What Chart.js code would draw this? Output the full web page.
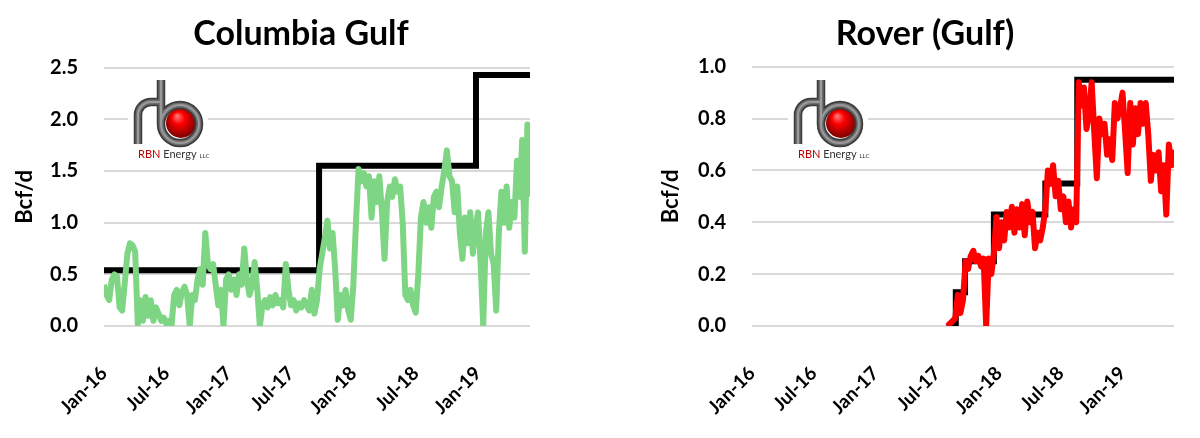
<!DOCTYPE html>
<html>
<head>
<meta charset="utf-8">
<title>Columbia Gulf / Rover (Gulf)</title>
<script src="https://cdn.jsdelivr.net/npm/chart.js@4.4.1/dist/chart.umd.min.js"></script>
<style>
  html, body { margin: 0; padding: 0; background: #fff; }
  #wrap { position: relative; width: 1200px; height: 438px; overflow: hidden; }
  canvas { position: absolute; top: 0; }
  #chartColumbia { left: 0; }
  #chartRover { left: 600px; }
</style>
</head>
<body>
<div id="wrap">
  <canvas id="chartColumbia" width="600" height="438"></canvas>
  <canvas id="chartRover" width="600" height="438"></canvas>
</div>
<script>
// x axis = months since Jan-16, one flow reading every quarter month
const monthStep = 0.25;
const tickMonths = [0, 6, 12, 18, 24, 30, 36];
const tickLabels = ['Jan-16', 'Jul-16', 'Jan-17', 'Jul-17', 'Jan-18', 'Jul-18', 'Jan-19'];

// Columbia Gulf flows (Bcf/d), 8 values = 2 months per row
const columbiaFlow = [
  0.40, 0.30, 0.25, 0.45, 0.50, 0.48, 0.18, 0.15,
  0.42, 0.70, 0.80, 0.78, 0.72, 0.02, 0.25, 0.05,
  0.28, 0.10, 0.25, 0.05, 0.18, 0.12, 0.05, 0.08,
  0.02, 0.05, 0.00, 0.30, 0.35, 0.20, 0.33, 0.38,
  0.30, 0.00, 0.30, 0.25, 0.45, 0.55, 0.40, 0.90,
  0.60, 0.55, 0.60, 0.40, 0.20, 0.35, 0.00, 0.45,
  0.50, 0.35, 0.45, 0.30, 0.50, 0.40, 0.75, 0.45,
  0.30, 0.40, 0.62, 0.35, 0.00, 0.20, 0.25, 0.18,
  0.28, 0.20, 0.30, 0.22, 0.25, 0.18, 0.60, 0.35,
  0.20, 0.25, 0.15, 0.22, 0.18, 0.25, 0.20, 0.15,
  0.35, 0.12, 0.25, 0.55, 0.70, 0.85, 1.02, 0.75,
  0.90, 0.55, 0.06, 0.30, 0.20, 0.35, 0.15, 0.06,
  0.40, 1.00, 1.52, 1.40, 1.48, 1.35, 1.45, 1.05,
  1.40, 1.20, 1.45, 1.10, 0.65, 1.20, 1.35, 1.25,
  1.42, 1.30, 1.35, 1.00, 0.30, 0.25, 0.35, 0.20,
  0.13, 0.50, 1.05, 1.20, 1.00, 1.15, 0.95, 1.25,
  1.30, 1.15, 1.35, 1.50, 1.70, 1.45, 1.40, 1.10,
  1.35, 0.90, 0.65, 1.05, 0.80, 1.10, 0.70, 0.95,
  1.10, 0.60, 0.00, 0.90, 1.10, 0.70, 0.60, 0.15,
  0.90, 1.30, 1.00, 1.35, 0.95, 1.20, 1.05, 1.60,
  1.25, 1.80, 0.72, 1.95, 1.25
];
// Columbia Gulf capacity steps
const columbiaCapMonths = [0, 20.7, 35.8, 41];
const columbiaCapValues = [0.54, 1.55, 2.43, 2.43];

// Rover (Gulf) flows, nothing before Jul-17
const roverFlow = [
  null, null, null, null, null, null, null, null,
  null, null, null, null, null, null, null, null,
  null, null, null, null, null, null, null, null,
  null, null, null, null, null, null, null, null,
  null, null, null, null, null, null, null, null,
  null, null, null, null, null, null, null, null,
  null, null, null, null, null, null, null, null,
  null, null, null, null, null, null, null, null,
  null, null, null, null, null, null, null, null,
  null, null, null, null,
  0.00, 0.01, 0.02, 0.03, 0.12, 0.05, 0.10, 0.25,
  0.22, 0.27, 0.29, 0.25, 0.27, 0.23, 0.26, 0.00,
  0.26, 0.20, 0.28, 0.42, 0.30, 0.40, 0.33, 0.44,
  0.38, 0.46, 0.36, 0.45, 0.38, 0.47, 0.35, 0.48,
  0.40, 0.44, 0.30, 0.36, 0.33, 0.38, 0.45, 0.60,
  0.55, 0.62, 0.50, 0.56, 0.45, 0.50, 0.40, 0.48,
  0.38, 0.45, 0.40, 0.94, 0.85, 0.92, 0.76, 0.82,
  0.94, 0.75, 0.57, 0.80, 0.74, 0.78, 0.66, 0.72,
  0.64, 0.86, 0.80, 0.84, 0.90, 0.75, 0.59, 0.86,
  0.70, 0.84, 0.74, 0.86, 0.78, 0.86, 0.74, 0.56,
  0.66, 0.60, 0.67, 0.52, 0.62, 0.43, 0.70, 0.62,
  0.68
];
// Rover capacity steps
const roverCapMonths = [18.9, 19.8, 20.7, 23.5, 28.5, 31.6, 41];
const roverCapValues = [0, 0.13, 0.25, 0.43, 0.55, 0.95, 0.95];

Chart.defaults.font.family = 'Lato, "Open Sans", sans-serif';
Chart.defaults.color = '#000';

// RBN logo, drawn by hand
function drawLogo(ctx, x0, y0) {
  ctx.save();
  ctx.translate(x0, y0);
  ctx.fillStyle = '#fff';
  ctx.fillRect(-2, -3, 80, 88);

  // red ball
  const g = ctx.createRadialGradient(47, 38, 1, 51, 44, 16);
  g.addColorStop(0, '#ff7070');
  g.addColorStop(0.35, '#ff0000');
  g.addColorStop(1, '#7a0000');
  ctx.fillStyle = g;
  ctx.beginPath();
  ctx.arc(51, 45, 15, 0, Math.PI * 2);
  ctx.fill();

  function pipe() {
    ctx.beginPath();
    ctx.moveTo(8, 66);
    ctx.lineTo(8, 37);
    ctx.arc(21, 37, 13, Math.PI, 1.5 * Math.PI);
    ctx.lineTo(31, 24);
    ctx.moveTo(31, 2);
    ctx.lineTo(31, 46);
    ctx.arc(50, 46, 19, Math.PI, 3 * Math.PI);
  }
  ctx.lineCap = 'butt';
  [[8.5, '#3c3c3c'], [5, '#6e6e6e'], [2, '#9a9a9a']].forEach(function (s) {
    ctx.lineWidth = s[0];
    ctx.strokeStyle = s[1];
    pipe();
    ctx.stroke();
  });

  ctx.textBaseline = 'alphabetic';
  ctx.textAlign = 'left';
  ctx.font = '11px Lato';
  ctx.fillStyle = '#c00000';
  ctx.fillText('RBN', 8, 80);
  let w = ctx.measureText('RBN ').width;
  ctx.fillStyle = '#333';
  ctx.fillText('Energy', 8 + w, 80);
  w += ctx.measureText('Energy ').width;
  ctx.font = '6px Lato';
  ctx.fillText('LLC', 8 + w, 80);
  ctx.restore();
};

// title + logo on top of each chart
const decorPlugin = {
  id: 'decor',
  afterDraw(chart, args, opts) {
    const ctx = chart.ctx;
    ctx.save();
    ctx.font = 'bold 34px Lato';
    ctx.fillStyle = '#000';
    ctx.textAlign = 'center';
    ctx.textBaseline = 'alphabetic';
    ctx.fillText(opts.title, opts.titleX, 45);
    ctx.restore();
    drawLogo(ctx, opts.logoX, 78);
  }
};

function makeChart(id, cfg) {
  const flowPoints = cfg.flow.map((v, i) => ({ x: i * monthStep, y: v }));
  const capPoints = cfg.capMonths.map((m, i) => ({ x: m, y: cfg.capValues[i] }));

  return new Chart(document.getElementById(id), {
    type: 'line',
    data: {
      datasets: [
        {
          label: 'Flow',
          data: flowPoints,
          borderColor: cfg.color,
          borderWidth: 6,
          borderJoinStyle: 'round',
          pointRadius: 0,
          tension: 0,
          order: 1
        },
        {
          label: 'Capacity',
          data: capPoints,
          borderColor: '#000',
          borderWidth: 6,
          pointRadius: 0,
          stepped: 'before',
          order: 2
        }
      ]
    },
    options: {
      responsive: false,
      animation: false,
      layout: { padding: { left: 0, right: cfg.padRight, top: cfg.padTop, bottom: 0 } },
      plugins: {
        legend: { display: false },
        tooltip: { enabled: false },
        decor: { title: cfg.title, titleX: cfg.titleX, logoX: cfg.logoX }
      },
      scales: {
        x: {
          type: 'linear',
          min: 0,
          max: 41,
          grid: { display: false },
          border: { display: false },
          afterBuildTicks: function (scale) {
            scale.ticks = tickMonths.map(v => ({ value: v }));
          },
          afterFit: function (scale) {
            scale.height = 112;
          },
          ticks: {
            autoSkip: false,
            minRotation: 45,
            maxRotation: 45,
            padding: 28,
            color: '#000',
            font: { size: 19, weight: 'bold' },
            callback: v => tickLabels[tickMonths.indexOf(v)]
          }
        },
        y: {
          min: 0,
          max: cfg.yMax,
          grid: { color: '#d9d9d9', lineWidth: 2, drawTicks: false },
          border: { display: false },
          afterFit: function (scale) {
            scale.width = cfg.axisWidth;
          },
          ticks: {
            stepSize: cfg.yStep,
            padding: 26,
            color: '#000',
            font: { size: 20, weight: 'bold' },
            callback: v => v.toFixed(1)
          },
          title: {
            display: true,
            text: 'Bcf/d',
            color: '#000',
            font: { size: 22, weight: 'bold' },
            padding: { top: cfg.yTitlePad, bottom: 0 }
          }
        }
      }
    },
    plugins: [decorPlugin]
  });
};

makeChart('chartColumbia', {
  title: 'Columbia Gulf',
  titleX: 301,
  flow: columbiaFlow,
  capMonths: columbiaCapMonths,
  capValues: columbiaCapValues,
  color: '#7ed583',
  yMax: 2.5,
  yStep: 0.5,
  axisWidth: 104,
  padRight: 70,
  padTop: 67.7,
  yTitlePad: 12,
  logoX: 130
});

makeChart('chartRover', {
  title: 'Rover (Gulf)',
  titleX: 325,
  flow: roverFlow,
  capMonths: roverCapMonths,
  capValues: roverCapValues,
  color: '#ff0000',
  yMax: 1.0,
  yStep: 0.2,
  axisWidth: 152,
  padRight: 26,
  padTop: 66.7,
  yTitlePad: 58,
  logoX: 190
});
</script>
</body>
</html>
